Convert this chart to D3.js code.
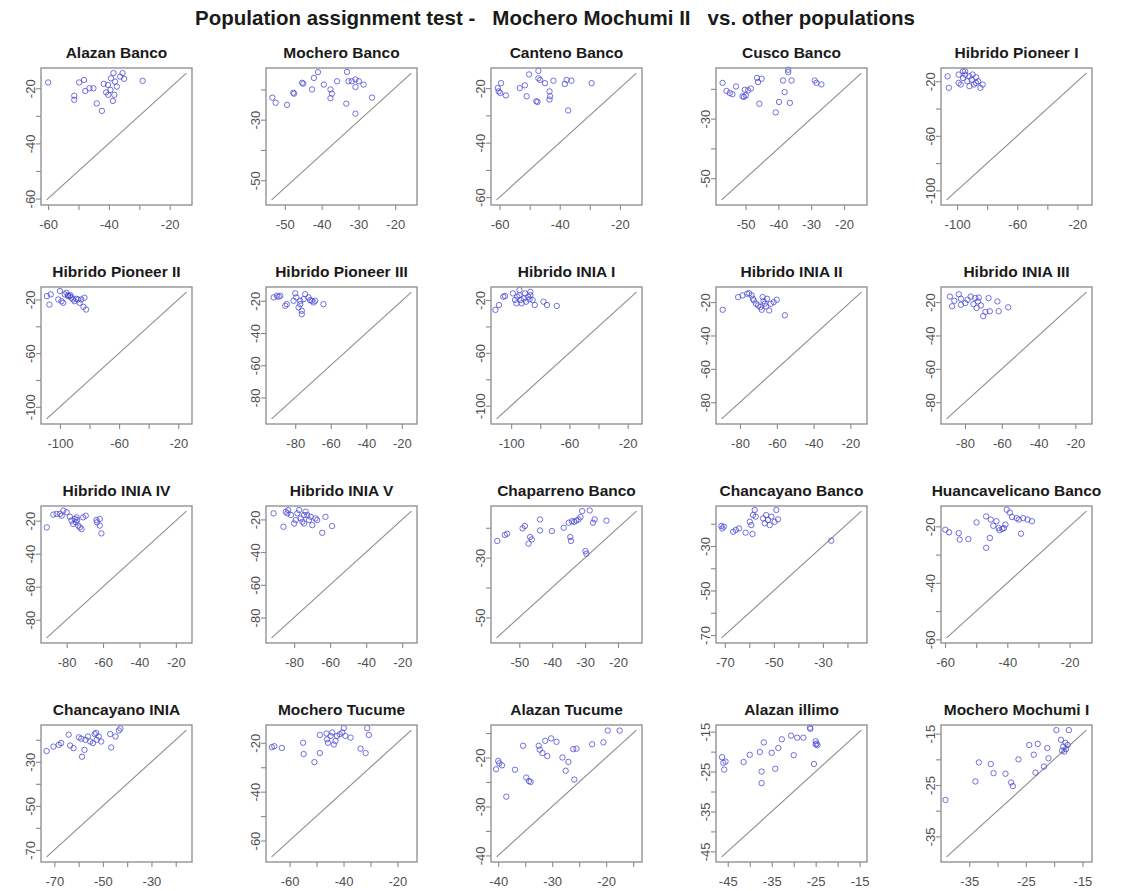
<!DOCTYPE html>
<html>
<head>
<meta charset="utf-8">
<script src="https://cdn.jsdelivr.net/npm/d3@7"></script>
<style>
body { margin: 0; background: #fff; }
svg { display: block; font-family: "Liberation Sans", Arial, sans-serif; }
</style>
</head>
<body>
<svg id="chart" width="1121" height="891"></svg>
<script>
var mainTitle = "Population assignment test -   Mochero Mochumi II   vs. other populations";

var panelNames = ["Alazan Banco", "Mochero Banco", "Canteno Banco", "Cusco Banco", "Hibrido Pioneer I",
  "Hibrido Pioneer II", "Hibrido Pioneer III", "Hibrido INIA I", "Hibrido INIA II", "Hibrido INIA III",
  "Hibrido INIA IV", "Hibrido INIA V", "Chaparreno Banco", "Chancayano Banco", "Huancavelicano Banco",
  "Chancayano INIA", "Mochero Tucume", "Alazan Tucume", "Alazan illimo", "Mochero Mochumi I"];

// data range of each panel (R pads it by 4% on each side)
var xDomains = [[-60.5,-14.5],[-53.6,-15.6],[-61,-14.5],[-57.3,-14.7],[-107,-14],
  [-109,-14.5],[-93.3,-14.6],[-110,-14],[-90,-14],[-90,-14],
  [-91,-14.2],[-92.5,-14.9],[-56.9,-14.4],[-71.3,-14.3],[-59.5,-14.6],
  [-73.2,-15.6],[-66.7,-14.8],[-40.3,-14.4],[-46.4,-14.6],[-39,-14.3]];
var yDomains = [[-60.5,-14.5],[-56.5,-14.6],[-61,-14.5],[-57.3,-14.7],[-107,-14],
  [-109,-14.5],[-93.3,-14.6],[-110,-14],[-90,-14],[-90,-14],
  [-91,-14.2],[-92.5,-14.9],[-56.9,-14.4],[-71.3,-14.3],[-59.5,-14.6],
  [-73.2,-15.6],[-66.7,-14.8],[-40.3,-14.4],[-46.4,-14.6],[-39,-14.3]];

// tick sets
var t60 = [-60,-50,-40,-30,-20], l60 = [-60,-40,-20];
var t50 = [-50,-40,-30,-20], l50 = [-50,-30];
var t100 = [-100,-80,-60,-40,-20], l100 = [-100,-60,-20];
var t80 = [-80,-60,-40,-20];
var t70 = [-70,-60,-50,-40,-30,-20], l70 = [-70,-50,-30];
var t40 = [-40,-35,-30,-25,-20,-15], l40 = [-40,-30,-20];
var t45 = [-45,-40,-35,-30,-25,-20,-15], l45 = [-45,-35,-25,-15];
var t35 = [-35,-30,-25,-20,-15], l35 = [-35,-25,-15];

var xTicks  = [t60,t50,t60,t50,t100, t100,t80,t100,t80,t80, t80,t80,t50,t70,t60, t70,t60,t40,t45,t35];
var xLabels = [l60,t50,l60,t50,l100, l100,t80,l100,t80,t80, t80,t80,t50,l70,l60, l70,l60,l40,l45,l35];
var yTicks  = xTicks;
var yLabels = [l60,l50,l60,l50,l100, l100,t80,l100,t80,t80, t80,t80,l50,l70,l60, l70,l60,l40,l45,l35];

// points: [score vs other population, score vs Mochero Mochumi II]
var alazanBanco = [[-60,-17.9],[-49.8,-17.9],[-48.2,-17],[-51.4,-22.7],[-51.4,-24.2],[-47.8,-21],[-46.4,-20],[-45.1,-20],[-44,-25.5],[-42.3,-28.2],[-41.7,-18.4],[-40.9,-21.5],[-40.2,-22.4],[-39.3,-16.4],[-38.5,-14.5],[-38,-17.6],[-38.7,-24.6],[-38.2,-22.4],[-37.4,-19.4],[-36.3,-15.8],[-35.5,-14.5],[-35,-16.6],[-28.9,-17.3],[-39.5,-20.6],[-40.3,-18.8]];
var mocheroBanco = [[-53.4,-22.7],[-52.5,-24.4],[-49.4,-25.1],[-47.7,-21.1],[-47.5,-21.4],[-45.3,-17.8],[-45,-18.1],[-42.6,-20],[-42.1,-16.2],[-41,-14.3],[-39.4,-18.4],[-37.6,-20],[-37.2,-21.4],[-37.6,-22.9],[-35.8,-17.3],[-33.1,-14.2],[-32.7,-17.3],[-31.8,-17.3],[-30.8,-16.7],[-30.8,-19.2],[-28.6,-18.4],[-33.3,-24.7],[-30.8,-28],[-26.3,-22.7],[-29.9,-17.3]];
var cantenoBanco = [[-60.6,-20],[-60.3,-21.2],[-59.5,-18.2],[-59.8,-21.8],[-57.9,-22.7],[-53.3,-20],[-51.6,-19],[-51,-23],[-50.2,-15],[-47.8,-24.8],[-47.4,-25.1],[-47.1,-13.7],[-47.1,-16.4],[-46.5,-17],[-44.9,-18.2],[-43.4,-21.2],[-43.4,-24.2],[-42.1,-17.3],[-38.3,-18.5],[-37.7,-17],[-36.1,-17.3],[-37.2,-28.2],[-29.4,-18.2],[-43.2,-23]];
var cuscoBanco = [[-57,-18],[-55.8,-20.7],[-54.8,-21.4],[-54,-21.8],[-52.9,-19.2],[-50.9,-22.5],[-50.5,-22.7],[-49.9,-22.2],[-50.2,-20.3],[-49.2,-20.5],[-48.4,-19.9],[-46.5,-16.3],[-46.2,-17.7],[-45.1,-16.6],[-45.8,-25],[-40.8,-27.9],[-39.8,-24.4],[-38.6,-17.2],[-38.1,-21.1],[-37,-14.4],[-37,-13.6],[-36.5,-24.7],[-36,-17.2],[-28.9,-17.2],[-28.4,-18],[-26.9,-18.5]];
var pioneer1 = [[-106.3,-16.4],[-105.5,-24.8],[-99,-15.1],[-99,-21.2],[-97.6,-22.4],[-96.1,-17.6],[-94.7,-15.1],[-94.7,-12.7],[-93.2,-20],[-91.8,-16.4],[-90.3,-18.8],[-89.7,-15.1],[-88.8,-22.4],[-87.4,-17.1],[-86,-20],[-84.5,-24.8],[-83,-22.4],[-91.8,-23.6],[-87.4,-21.2],[-96.1,-12.7]];
var pioneer2 = [[-108.8,-17.5],[-107.1,-23.8],[-106.2,-16.2],[-101.1,-20],[-100,-13.7],[-98.9,-21.3],[-97.8,-22.5],[-96.7,-16.2],[-95.6,-15],[-94.5,-17],[-93.4,-17.5],[-92.3,-18.7],[-91.2,-20],[-90.1,-21.3],[-89,-19.5],[-87.8,-20],[-86.7,-22.5],[-85.6,-20],[-84.1,-25.5],[-83.4,-18.7],[-82.3,-27.5],[-94.5,-17.5],[-92.8,-16.8]];
var pioneer3 = [[-92.1,-17.9],[-90.3,-16.9],[-89.3,-17.5],[-88.4,-16.9],[-85.6,-23.1],[-84.7,-22.1],[-80,-15.4],[-79.4,-17.9],[-78.1,-24.1],[-77.2,-22.1],[-76.3,-26.2],[-76.3,-28.3],[-75.3,-19],[-74.4,-15.9],[-72.5,-17.9],[-71.6,-19.6],[-70.7,-20],[-69.7,-21],[-68.8,-20],[-64.1,-22.1],[-77.2,-20],[-80.9,-20]];
var inia1 = [[-110.8,-27.5],[-108.4,-23.8],[-105.4,-17.5],[-104.2,-17],[-98.8,-15],[-97.3,-20],[-96.4,-22.5],[-95.8,-17.5],[-94.3,-16.3],[-93.4,-20],[-92.8,-22.5],[-91.3,-18.8],[-90.4,-15],[-89.8,-21.3],[-88.3,-17.5],[-87.4,-19.5],[-86.8,-16.3],[-85.3,-20],[-83.8,-23.8],[-77.8,-21.3],[-75.4,-23.8],[-68.7,-24.5],[-94.3,-12.5],[-86.8,-13.8]];
var inia2 = [[-89.4,-24.6],[-81,-17],[-78.6,-16],[-75,-14.7],[-73.7,-16],[-73,-18],[-72.5,-19],[-71.3,-21],[-70.1,-22],[-68.9,-23],[-67.7,-17],[-67.2,-19.4],[-66.5,-21],[-65.8,-22.6],[-65.3,-18],[-64.1,-25],[-63.3,-21],[-61.7,-20],[-60,-18.6],[-55.6,-27.9],[-76.1,-15],[-68.2,-24.6]];
var inia3 = [[-88.2,-16.7],[-87,-22.5],[-85.8,-19.2],[-83.4,-15.3],[-82.2,-18],[-79.8,-20.6],[-78.6,-18.6],[-76.9,-16.7],[-75.4,-21.2],[-73.7,-23.5],[-73,-19.6],[-72.5,-17.3],[-71.3,-22],[-70.1,-28.4],[-68.9,-25.9],[-67.2,-17.6],[-66.5,-25.5],[-62.4,-19.6],[-61.7,-25.5],[-56.5,-23.1],[-74.4,-17.6],[-82.2,-21.6]];
var inia4 = [[-90.9,-24.1],[-87.3,-16.3],[-85.5,-15.9],[-83.6,-15.9],[-82.7,-17],[-81.8,-13.9],[-80,-14.9],[-78.2,-17.6],[-77.3,-20],[-76.4,-22],[-75.5,-19],[-74.9,-21],[-74.2,-19.6],[-73.6,-23],[-72.7,-24.1],[-71.8,-25.1],[-70.9,-18],[-69.5,-17],[-63.6,-19.6],[-63.3,-21],[-61.8,-19],[-61.8,-23],[-60.9,-27.7],[-74.5,-18]];
var inia5 = [[-91.4,-16.3],[-85.9,-24.5],[-84.6,-15.3],[-83.7,-16.3],[-83.3,-14.3],[-81.8,-17.3],[-80,-22.5],[-79.1,-20.4],[-78.2,-16.3],[-77.2,-14.3],[-76.3,-19.4],[-75.4,-21.4],[-74.5,-17.3],[-73.6,-15.3],[-72.7,-17.3],[-71.7,-20.4],[-70.8,-18.4],[-69.9,-23.5],[-68.1,-19.4],[-67.2,-20.4],[-64.4,-28.2],[-62.6,-18.4],[-58.9,-24.1],[-74.5,-22.5]];
var chaparrenoBanco = [[-56.7,-24.4],[-54.4,-22.4],[-53.7,-22],[-49,-20.2],[-48.3,-19.4],[-47.2,-25.3],[-46.7,-23.1],[-46.2,-23.9],[-43.7,-17.2],[-43.7,-20.9],[-40.1,-21.1],[-36.5,-20],[-35,-18.3],[-34.5,-23.1],[-34.3,-24.4],[-34,-17.8],[-33.3,-18],[-32.7,-17.6],[-32,-17.2],[-31.4,-16.4],[-30.9,-14.4],[-29.9,-27.8],[-29.6,-28.7],[-28.6,-14.2],[-27.6,-18.3],[-27.1,-17.2],[-23.5,-17.6]];
var chancayanoBanco = [[-71.4,-21],[-71,-22.1],[-70.4,-21.3],[-66.6,-23.6],[-65.5,-22.8],[-64.2,-22.1],[-61.5,-24],[-59.8,-19.1],[-59.2,-20.6],[-58.7,-24.6],[-58.5,-16.1],[-57.8,-13.8],[-57.4,-16.8],[-54.4,-17.6],[-53.7,-19.8],[-53.1,-16.1],[-52.4,-18.3],[-51.7,-20.6],[-51,-16.8],[-49.7,-19.1],[-49,-13.8],[-48.3,-18],[-26.6,-27.6]];
var huancavelicanoBanco = [[-59.9,-21.2],[-58.7,-22.1],[-55.6,-22.4],[-55.3,-24.7],[-52.5,-24.5],[-49.9,-18.6],[-46.8,-27.6],[-46.8,-16.5],[-45.6,-24.1],[-45.3,-17.6],[-44.5,-19.8],[-43.5,-18.2],[-42.8,-20.6],[-42.5,-21.4],[-41.6,-20.9],[-41.1,-20.6],[-40.6,-19.4],[-40.2,-14.1],[-39.2,-15.1],[-38.5,-16.7],[-37,-17.1],[-35.6,-22.6],[-34.9,-17.1],[-33.5,-17.6],[-32.1,-18.2],[-36.3,-17.6]];
var chancayanoINIA = [[-73.2,-25.1],[-70.4,-23.1],[-68.2,-22.3],[-67.2,-21.5],[-64.1,-17.7],[-63.5,-22.6],[-62.1,-23.8],[-59.9,-18.9],[-58.9,-19.5],[-58.6,-27.7],[-57.6,-24.6],[-57.2,-20],[-56.2,-18.5],[-55.2,-20.8],[-54.1,-21.5],[-53.4,-17.4],[-52.8,-16.9],[-52.5,-20],[-51.7,-18.5],[-50.7,-20.8],[-46.6,-23.5],[-47,-17.4],[-44.8,-18.5],[-43.4,-15.8],[-42.8,-14.9]];
var mocheroTucume = [[-66.6,-21.8],[-65.7,-21.4],[-62.9,-22.1],[-55,-20],[-54.8,-24.6],[-50.8,-27.9],[-48.8,-16.8],[-48.8,-24.2],[-46.3,-16.2],[-46.1,-18.6],[-45.8,-20],[-44.8,-17.2],[-44.2,-15.8],[-43.6,-20.7],[-43,-19.3],[-42.4,-17.2],[-41.4,-16.5],[-40.5,-15.8],[-39.9,-14],[-39.3,-17.2],[-37.4,-17.9],[-33.7,-22.4],[-31.8,-24.2],[-31.2,-14],[-30.6,-16.8]];
var alazanTucume = [[-40.4,-22.4],[-40,-20.7],[-39.8,-21.2],[-39.3,-21.6],[-38.5,-28],[-36.9,-22.5],[-35.4,-17.6],[-34.8,-24.1],[-34.3,-24.8],[-34,-25],[-32.5,-17.6],[-32.3,-18.4],[-31.8,-19.1],[-31.3,-16.6],[-30.9,-19.7],[-30.2,-16.1],[-29.2,-16.8],[-28.1,-20],[-27.5,-22.7],[-27,-20.9],[-25.9,-24.5],[-26.1,-18.3],[-25.5,-18.2],[-22.6,-17.3],[-20.5,-16.9],[-19.7,-14.5],[-17.5,-14.5]];
var alazanIllimo = [[-46.3,-21.4],[-46,-22.8],[-45.8,-24.5],[-45.5,-22.5],[-41.4,-22.6],[-40,-20.8],[-37.7,-20.1],[-37.3,-25],[-37.3,-27.9],[-36.8,-17.7],[-35,-20.3],[-34.2,-24.3],[-33.5,-19.1],[-32.7,-16.9],[-30.6,-16],[-30,-20.9],[-29.2,-16.5],[-27.8,-16.5],[-26.3,-14],[-26.2,-14.3],[-25.4,-23.1],[-25,-17.4],[-24.8,-18],[-24.6,-18.4],[-25,-18.2]];
var mocheroMochumi1 = [[-39.2,-27.9],[-33.9,-24.3],[-33.3,-20.6],[-31.2,-20.9],[-30.7,-22.7],[-28.6,-22.8],[-27.6,-24.5],[-27.3,-25.2],[-26.3,-20],[-24.4,-17.2],[-23.6,-19.1],[-23.3,-22.6],[-22.9,-17],[-21.8,-21.4],[-21.2,-17.8],[-21,-19.8],[-19.6,-14.3],[-18.8,-16.2],[-18.4,-17.5],[-18,-16.8],[-17.9,-18],[-17.6,-17.2],[-17.4,-14.3],[-18.2,-18.5],[-18.6,-18.3]];

var panelPoints = [alazanBanco, mocheroBanco, cantenoBanco, cuscoBanco, pioneer1,
  pioneer2, pioneer3, inia1, inia2, inia3,
  inia4, inia5, chaparrenoBanco, chancayanoBanco, huancavelicanoBanco,
  chancayanoINIA, mocheroTucume, alazanTucume, alazanIllimo, mocheroMochumi1];

//=============================================================

var svg = d3.select("#chart");

var boxW = 151, boxH = 137;
var colStep = 225, rowStep = 219;
var left0 = 41, top0 = 68;

function padded(d) {
  var w = d[1] - d[0];
  return [d[0] - 0.04 * w, d[1] + 0.04 * w];
}

svg.append("text")
    .attr("x", 555)
    .attr("y", 25)
    .attr("text-anchor", "middle")
    .attr("xml:space", "preserve")
    .style("white-space", "pre")
    .style("font-weight", "bold")
    .style("font-size", "20.5px")
    .style("fill", "#1a1a1a")
    .text(mainTitle);

panelNames.forEach(function(name, i) {
  var col = i % 5, row = Math.floor(i / 5);
  var L = left0 + col * colStep;
  var T = top0 + row * rowStep;

  var xScale = d3.scaleLinear().domain(padded(xDomains[i])).range([L, L + boxW]);
  var yScale = d3.scaleLinear().domain(padded(yDomains[i])).range([T + boxH, T]);

  var g = svg.append("g");

  var xAxis = d3.axisBottom(xScale)
      .tickValues(xTicks[i])
      .tickSize(5)
      .tickPadding(10)
      .tickFormat(function(d) { return xLabels[i].indexOf(d) >= 0 ? String(d) : ""; });
  var yAxis = d3.axisLeft(yScale)
      .tickValues(yTicks[i])
      .tickSize(5)
      .tickFormat(function(d) { return yLabels[i].indexOf(d) >= 0 ? String(d) : ""; });

  var gx = g.append("g")
      .attr("transform", "translate(0," + (T + boxH) + ")")
      .call(xAxis);
  var gy = g.append("g")
      .attr("transform", "translate(" + L + ",0)")
      .call(yAxis);

  [gx, gy].forEach(function(a) {
    a.select(".domain").remove();
    a.selectAll(".tick line").attr("stroke", "#8a8a8a").attr("stroke-width", 1.1);
    a.selectAll(".tick text")
        .style("font-family", "'Liberation Sans', Arial, sans-serif")
        .style("font-size", "13px")
        .style("fill", "#505050");
  });

  gy.selectAll(".tick text")
      .attr("transform", "rotate(-90)")
      .attr("x", 0)
      .attr("y", -6)
      .attr("dy", null)
      .attr("text-anchor", "middle");

  // diagonal
  g.append("line")
      .attr("x1", xScale(xDomains[i][0]))
      .attr("y1", yScale(yDomains[i][0]))
      .attr("x2", xScale(xDomains[i][1]))
      .attr("y2", yScale(yDomains[i][1]))
      .attr("stroke", "#8c8c8c")
      .attr("stroke-width", 1.1);

  g.selectAll("circle")
      .data(panelPoints[i])
      .enter().append("circle")
      .attr("cx", function(p) { return xScale(p[0]); })
      .attr("cy", function(p) { return yScale(p[1]); })
      .attr("r", 2.7)
      .attr("fill", "none")
      .attr("stroke", "#4646d2")
      .attr("stroke-opacity", 0.85)
      .attr("stroke-width", 0.9);

  g.append("rect")
      .attr("x", L)
      .attr("y", T)
      .attr("width", boxW)
      .attr("height", boxH)
      .attr("fill", "none")
      .attr("stroke", "#8a8a8a")
      .attr("stroke-width", 1.3);

  g.append("text")
      .attr("x", L + boxW / 2)
      .attr("y", T - 10)
      .attr("text-anchor", "middle")
      .style("font-weight", "bold")
      .style("font-size", "15.5px")
      .style("fill", "#1a1a1a")
      .text(name);
});
</script>
</body>
</html>
